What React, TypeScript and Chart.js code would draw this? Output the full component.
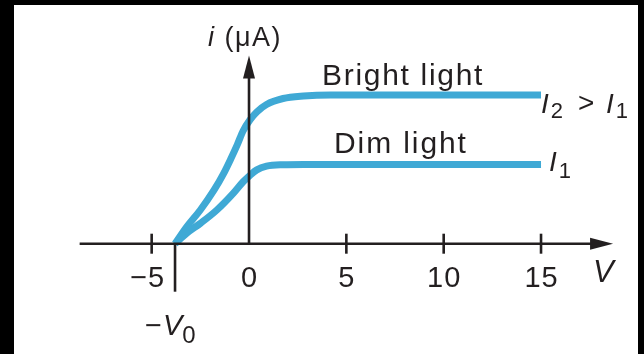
import { useEffect, useRef } from 'react';
import { Chart, registerables } from 'chart.js';

Chart.register(...registerables);

// Photocurrent i (µA) versus applied voltage V for two light intensities
const brightV = [-3.8, -3.2, -2.5, -1.8, -1.3, -0.95, -0.6, -0.3, 0.05, 0.4, 0.9, 1.75, 2.8, 4.2, 15];
const brightI = [0, 1.7, 3.4, 5.4, 7.1, 8.5, 10.0, 11.4, 12.5, 13.3, 14.05, 14.65, 14.9, 15, 15];

const dimV = [-3.8, -3.2, -2.5, -1.65, -0.8, -0.3, 0.05, 0.4, 0.9, 1.75, 2.8, 15];
const dimI = [0, 1.05, 2.05, 3.4, 5.1, 6.25, 6.9, 7.45, 7.82, 7.97, 8.0, 8.0];

const tickValues = [-5, 0, 5, 10, 15];
const tickLabels = ['\u22125', '0', '5', '10', '15'];

// stopping potential −V0
const stoppingV = -3.8;

// extents of the drawn axis arrows
const axisXFrom = -8.7;
const axisXTo = 18.7;
const axisYTo = 19;

const FONT = '"Liberation Sans", Arial, Helvetica, sans-serif';
const INK = '#231F20';
const BLUE = '#3FA9D5';

function text(
  ctx: CanvasRenderingContext2D,
  s: string,
  x: number,
  y: number,
  font: string,
  align: CanvasTextAlign = 'left',
  spacing = 0
) {
  ctx.font = font;
  ctx.textAlign = align;
  ctx.textBaseline = 'alphabetic';
  (ctx as any).letterSpacing = spacing + 'px';
  ctx.fillText(s, x, y);
  const w = ctx.measureText(s).width;
  (ctx as any).letterSpacing = '0px';
  return w;
}

const framePlugin = {
  id: 'frame',
  beforeDraw(chart: Chart) {
    const ctx = chart.ctx;
    ctx.save();
    ctx.fillStyle = '#000';
    ctx.fillRect(0, 0, chart.width, chart.height);
    ctx.fillStyle = '#fff';
    ctx.fillRect(14, 5, 624, chart.height - 5);
    ctx.restore();
  },
};

const axesPlugin = {
  id: 'arrowAxes',
  afterDatasetsDraw(chart: Chart) {
    const ctx = chart.ctx;
    const xs = chart.scales.x;
    const ys = chart.scales.y;
    const y0 = ys.getPixelForValue(0);
    const x0 = xs.getPixelForValue(0);
    const headLen = 23;
    const headHalf = 6;

    ctx.save();
    ctx.strokeStyle = INK;
    ctx.fillStyle = INK;
    ctx.lineWidth = 2.6;
    ctx.lineCap = 'butt';

    // horizontal axis with arrow
    const xStart = xs.getPixelForValue(axisXFrom);
    const xTip = xs.getPixelForValue(axisXTo);
    ctx.beginPath();
    ctx.moveTo(xStart, y0);
    ctx.lineTo(xTip - headLen + 2, y0);
    ctx.stroke();
    ctx.beginPath();
    ctx.moveTo(xTip, y0);
    ctx.lineTo(xTip - headLen, y0 - headHalf);
    ctx.lineTo(xTip - headLen, y0 + headHalf);
    ctx.closePath();
    ctx.fill();

    // vertical axis with arrow
    const yTip = ys.getPixelForValue(axisYTo);
    ctx.beginPath();
    ctx.moveTo(x0, y0 + 1);
    ctx.lineTo(x0, yTip + headLen - 2);
    ctx.stroke();
    ctx.beginPath();
    ctx.moveTo(x0, yTip);
    ctx.lineTo(x0 - headHalf, yTip + headLen);
    ctx.lineTo(x0 + headHalf, yTip + headLen);
    ctx.closePath();
    ctx.fill();

    // tick marks
    tickValues.forEach((v) => {
      if (v === 0) return;
      const px = xs.getPixelForValue(v);
      ctx.beginPath();
      ctx.moveTo(px, y0 - 10);
      ctx.lineTo(px, y0 + 10);
      ctx.stroke();
    });

    // stopping potential marker
    const xv = xs.getPixelForValue(stoppingV);
    ctx.beginPath();
    ctx.moveTo(xv, y0);
    ctx.lineTo(xv, y0 + 48);
    ctx.stroke();

    // tick labels
    const tickFont = `29px ${FONT}`;
    tickValues.forEach((v, i) => {
      const px = xs.getPixelForValue(v) + (v < 0 ? -4 : 0.5);
      text(ctx, tickLabels[i], px, y0 + 43, tickFont, 'center', 1);
    });

    // axis titles
    text(ctx, 'V', xTip - 20, y0 + 38, `italic 31px ${FONT}`, 'left');
    let ix = x0 - 41;
    ix += text(ctx, 'i', ix, 46, `italic 27px ${FONT}`, 'left', 1.5);
    text(ctx, ' (\u03BCA)', ix, 46, `27px ${FONT}`, 'left', 1.5);

    // −V0 label
    let vx = xv - 30;
    const vBase = y0 + 91;
    vx += text(ctx, '\u2212', vx, vBase, `29px ${FONT}`, 'left');
    vx += text(ctx, 'V', vx + 1, vBase, `italic 29px ${FONT}`, 'left');
    text(ctx, '0', vx + 1, vBase + 8, `24px ${FONT}`, 'left');

    // curve captions
    text(ctx, 'Bright light', 322, 85, `30px ${FONT}`, 'left', 1.7);
    text(ctx, 'Dim light', 334, 153, `30px ${FONT}`, 'left', 1.9);

    // intensity labels
    const italic = `italic 28px ${FONT}`;
    const sub = `22px ${FONT}`;
    let lx = 541;
    lx += text(ctx, 'I', lx, 113, italic, 'left');
    lx += text(ctx, '2', lx + 2, 118, sub, 'left');
    text(ctx, '>', 578, 112, `28px ${FONT}`, 'left');
    let rx = 606;
    rx += text(ctx, 'I', rx, 113, italic, 'left');
    text(ctx, '1', rx + 2, 118, sub, 'left');

    let dx = 549;
    dx += text(ctx, 'I', dx, 171, italic, 'left');
    text(ctx, '1', dx + 2, 178, sub, 'left');

    ctx.restore();
  },
};

export default function App() {
  const ref = useRef<HTMLCanvasElement>(null);

  useEffect(() => {
    const canvas = ref.current;
    if (!canvas) return;
    const chart = new Chart(canvas, {
      type: 'line',
      data: {
        datasets: [
          {
            label: 'Bright light',
            data: brightV.map((v, i) => ({ x: v, y: brightI[i] })),
            borderColor: BLUE,
            borderWidth: 7,
            pointRadius: 0,
            fill: false,
            cubicInterpolationMode: 'monotone',
            clip: false,
            borderCapStyle: 'butt',
          },
          {
            label: 'Dim light',
            data: dimV.map((v, i) => ({ x: v, y: dimI[i] })),
            borderColor: BLUE,
            borderWidth: 7,
            pointRadius: 0,
            fill: false,
            cubicInterpolationMode: 'monotone',
            clip: false,
            borderCapStyle: 'butt',
          },
        ],
      },
      options: {
        responsive: false,
        animation: false,
        events: [],
        layout: { padding: { left: 73.8, right: 25.1, top: 45.5, bottom: 110.3 } },
        scales: {
          x: { type: 'linear', min: -9, max: 19, display: false },
          y: { type: 'linear', min: 0, max: 20, display: false },
        },
        plugins: {
          legend: { display: false },
          tooltip: { enabled: false },
          title: { display: false },
        },
      },
      plugins: [framePlugin, axesPlugin],
    });
    return () => chart.destroy();
  }, []);

  return (
    <div style={{ position: 'fixed', left: 0, top: 0, width: 644, height: 354 }}>
      <canvas ref={ref} width={644} height={354} style={{ display: 'block' }} />
    </div>
  );
}
